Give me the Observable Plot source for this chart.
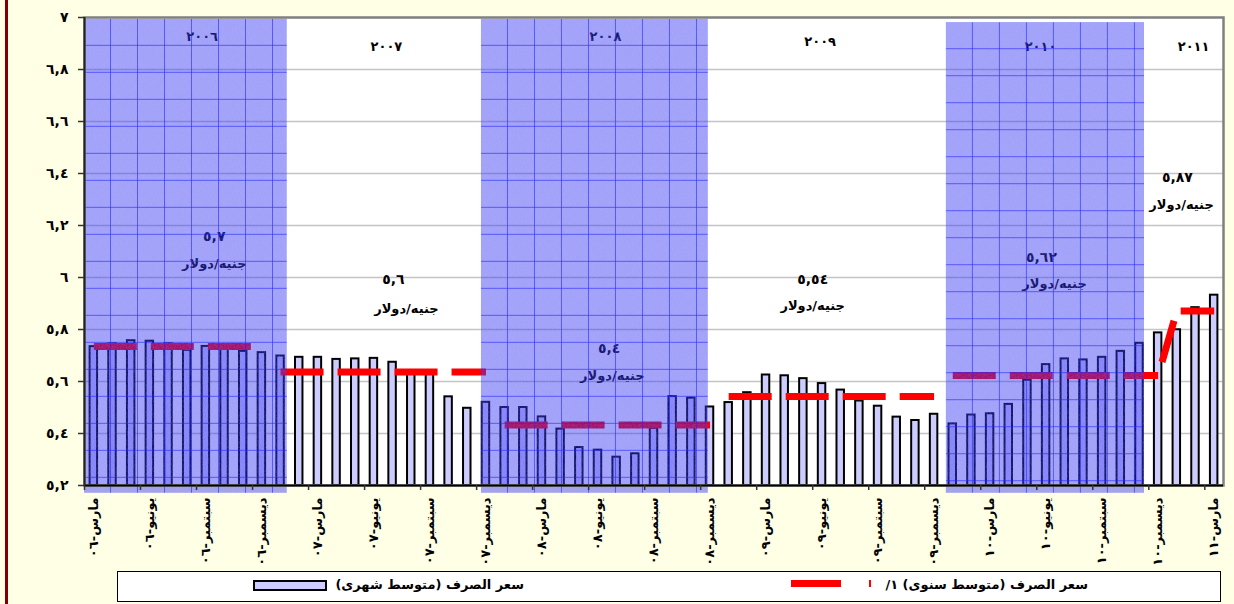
<!DOCTYPE html>
<html>
<head>
<meta charset="utf-8">
<script src="https://cdn.jsdelivr.net/npm/d3@7"></script>
<script src="https://cdn.jsdelivr.net/npm/@observablehq/plot@0.6"></script>
<style>
  html, body { margin: 0; padding: 0; background: #ffffe6; }
  #wrap { position: relative; width: 1234px; height: 604px; overflow: hidden; background: #ffffe6; font-family: "DejaVu Sans", sans-serif; }
  #chart { position: absolute; left: 0; top: 0; }
  #leftbar { position: absolute; left: 5px; top: 0; width: 2.5px; height: 604px; background: #800000; }
  #legend { position: absolute; left: 117px; top: 571px; width: 1102px; height: 29px; background: #fff; border: 1.5px solid #000; }
  #legend .txt { position: absolute; top: 5px; font-size: 13px; font-weight: bold; direction: rtl; text-align: right; white-space: nowrap; line-height: 16px; color: #000; }
  #legend .sw { position: absolute; box-sizing: border-box; }
</style>
</head>
<body>
<div id="wrap">
  <div id="chart"></div>
  <div id="leftbar"></div>
  <div id="legend">
    <div class="sw" id="sw1" style="left:135px;top:8px;width:74px;height:11px;background:#ccccff;border:2px solid #000;"></div>
    <div class="txt" id="t1" style="left:100px;width:306px;"></div>
    <div class="sw" id="sw2" style="left:673px;top:8px;width:50px;height:7px;background:#ff0000;"></div>
    <div class="sw" style="left:751px;top:8px;width:2px;height:7px;background:#ff0000;"></div>
    <div class="txt" id="t2" style="left:700px;width:270px;"></div>
  </div>
</div>
<script>
// ---- data (monthly average EGP per USD, March 2006 .. March 2011) ----
const rate2006 = [5.734, 5.745, 5.757, 5.755, 5.745, 5.720, 5.735, 5.730, 5.716, 5.711]; // مارس-ديسمبر
const rate2007 = [5.698, 5.693, 5.693, 5.685, 5.687, 5.689, 5.674, 5.640, 5.630, 5.541, 5.497, 5.520];
const rate2008 = [5.500, 5.500, 5.464, 5.417, 5.346, 5.336, 5.309, 5.322, 5.420, 5.542, 5.536, 5.502];
const rate2009 = [5.519, 5.557, 5.625, 5.622, 5.611, 5.592, 5.567, 5.525, 5.505, 5.463, 5.450, 5.474];
const rate2010 = [5.437, 5.471, 5.476, 5.512, 5.605, 5.665, 5.687, 5.683, 5.693, 5.716, 5.747, 5.787];
const rate2011 = [5.799, 5.884, 5.932]; // يناير-مارس

const annualAvg = [5.735, 5.637, 5.433, 5.542, 5.623, 5.871];
const annualText = ["٥,٧", "٥,٦", "٥,٤", "٥,٥٤", "٥,٦٢", "٥,٨٧"];
const unitText = "جنيه/دولار";
const yearNames = ["٢٠٠٦", "٢٠٠٧", "٢٠٠٨", "٢٠٠٩", "٢٠١٠", "٢٠١١"];

const xTickLabels = ["مارس-٠٦", "يونيو-٠٦", "سبتمبر-٠٦", "ديسمبر-٠٦",
  "مارس-٠٧", "يونيو-٠٧", "سبتمبر-٠٧", "ديسمبر-٠٧",
  "مارس-٠٨", "يونيو-٠٨", "سبتمبر-٠٨", "ديسمبر-٠٨",
  "مارس-٠٩", "يونيو-٠٩", "سبتمبر-٠٩", "ديسمبر-٠٩",
  "مارس-١٠", "يونيو-١٠", "سبتمبر-١٠", "ديسمبر-١٠", "مارس-١١"];
const yTicks = [5.2, 5.4, 5.6, 5.8, 6, 6.2, 6.4, 6.6, 6.8, 7];
const yTickLabels = ["٥,٢", "٥,٤", "٥,٦", "٥,٨", "٦", "٦,٢", "٦,٤", "٦,٦", "٦,٨", "٧"];

const legendMonthly = "سعر الصرف (متوسط شهرى)";
const legendAnnual = "سعر الصرف (متوسط سنوى) ١/";

// ---- layout (annotation anchors in data units, shaded year panels) ----
const yearLabelPos = [[5.8, 6.924], [15.67, 6.886], [27.4, 6.925], [38.9, 6.905], [50.7, 6.887], [58.9, 6.886]];
const valueLabelPos = [[6.45, 6.157], [16.04, 5.991], [27.6, 5.726], [38.5, 5.991], [50.75, 6.077], [58.03, 6.385]];
const unitLabelPos = [[6.45, 6.053], [16.74, 5.88], [27.77, 5.622], [38.5, 5.891], [51.45, 5.977], [58.25, 6.281]];
const shadePanels = [{x1: -0.5, x2: 10.36, top: 6.993}, {x1: 20.76, x2: 32.91, top: 6.993}, {x1: 45.66, x2: 56.27, top: 6.98}];
const shadeBottom = 5.17;
const barHalf = 0.2;
const linkedYears = [5];          // the annual line is drawn joined to the previous year only here
const dashOffsets = [0, 0, 0, 0, 0, 43];

// ---- build tables ----
const yearly = [rate2006, rate2007, rate2008, rate2009, rate2010, rate2011];
const rows = [];
yearly.forEach((arr, y) => arr.forEach(v => rows.push({i: rows.length, v, year: y})));
const lineRows = rows.map(d => ({i: d.i, avg: annualAvg[d.year], year: d.year}));
const yearSeries = yearly.map((_, k) => {
  const s = lineRows.filter(d => d.year === k);
  if (linkedYears.includes(k)) {
    const prev = lineRows.filter(d => d.year === k - 1);
    s.unshift(prev[prev.length - 1]);
  }
  return s;
});
const labelIdx = rows.filter(d => d.i % 3 === 0).map(d => d.i);
const tickIdx = labelIdx.map(i => i - 0.5);
const yLab = new Map(yTicks.map((t, k) => [t, yTickLabels[k]]));
const annots = yearNames.map((n, k) => ({
  year: n, yx: yearLabelPos[k][0], yy: yearLabelPos[k][1],
  val: annualText[k], vx: valueLabelPos[k][0], vy: valueLabelPos[k][1],
  ux: unitLabelPos[k][0], uy: unitLabelPos[k][1]
}));

const font = "DejaVu Sans";
const chart = Plot.plot({
  width: 1234,
  height: 566,
  marginLeft: 84,
  marginRight: 11,
  marginTop: 17,
  marginBottom: 81,
  style: {fontFamily: font, background: "transparent", overflow: "visible"},
  x: {type: "linear", domain: [-0.5, 60.5], axis: null},
  y: {domain: [5.2, 7], axis: null},
  marks: [
    Plot.frame({fill: "white"}),
    Plot.ruleY(yTicks.filter(t => t > 5.2 && t < 7), {stroke: "#c4c4c4", strokeWidth: 1.5}),
    Plot.rect(rows, {x1: d => d.i - barHalf, x2: d => d.i + barHalf, y1: () => 5.2, y2: "v",
      fill: "#ccccff", stroke: "#000", strokeWidth: 2}),
    ...yearSeries.map((s, k) => Plot.line(s, {x: "i", y: "avg", stroke: "#ff0000", strokeWidth: 7,
      strokeDasharray: "43,14", strokeDashoffset: dashOffsets[k], strokeLinecap: "butt", strokeLinejoin: "miter"})),
    Plot.text(annots, {x: "yx", y: "yy", text: "year", fontSize: 13, fontWeight: "bold", fill: "#000"}),
    Plot.text(annots, {x: "vx", y: "vy", text: "val", fontSize: 14, fontWeight: "bold", fill: "#000"}),
    Plot.text(annots, {x: "ux", y: "uy", text: () => unitText, fontSize: 13, fontWeight: "bold", fill: "#000"}),
    ...shadePanels.map((s, k) => Plot.rect([s], {x1: "x1", x2: "x2", y1: () => shadeBottom, y2: "top",
      fill: `url(#shade${k})`})),
    Plot.frame({stroke: "#808080", strokeWidth: 2.5}),
    Plot.ruleY([5.2], {stroke: "#000", strokeWidth: 2}),
    Plot.ruleX([-0.5], {stroke: "#222", strokeWidth: 2}),
    Plot.axisY({ticks: yTicks, tickFormat: d => yLab.get(d), tickSize: 6, tickPadding: 10,
      fontSize: 14, fontWeight: "bold", stroke: "#333", strokeWidth: 1.5}),
    Plot.axisX({ticks: tickIdx, tickFormat: () => "", tickSize: 5, stroke: "#333", strokeWidth: 1.5}),
    Plot.axisX({ticks: labelIdx, tickFormat: d => xTickLabels[d / 3], tickSize: 0, tickPadding: 12,
      tickRotate: -90, fontSize: 13, fontWeight: "bold"})
  ]
});

// patterns for the shaded year panels (texture with a grid)
const sx = chart.scale("x"), sy = chart.scale("y");
const defs = d3.select(chart).insert("defs", ":first-child");
const noise = defs.append("filter").attr("id", "noise").attr("x", 0).attr("y", 0).attr("width", 1).attr("height", 1);
noise.append("feTurbulence").attr("type", "fractalNoise").attr("baseFrequency", 1.6).attr("numOctaves", 1).attr("seed", 3).attr("result", "t");
noise.append("feColorMatrix").attr("in", "t").attr("type", "matrix")
  .attr("values", "0 0 0 0 0.5  0 0 0 0 0.5  0 0 0 0 0.9  0 0 0 -1.4 0.9");
shadePanels.forEach((s, k) => {
  const px = sx.apply(s.x1), py = sy.apply(s.top);
  const p = defs.append("pattern").attr("id", "shade" + k).attr("patternUnits", "userSpaceOnUse")
    .attr("x", px).attr("y", py).attr("width", 27).attr("height", 27);
  p.append("rect").attr("width", 27).attr("height", 27).attr("fill", "rgb(37,37,244)").attr("fill-opacity", 0.43);
  p.append("rect").attr("width", 27).attr("height", 27).attr("filter", "url(#noise)").attr("opacity", 0.35);
  p.append("path").attr("d", "M26.5,0V27M0,26.5H27").attr("stroke", "#2525ff").attr("stroke-opacity", 0.6).attr("stroke-width", 1);
});
// wide digit spacing for the year labels
d3.select(chart).selectAll("text").filter(function () { return yearNames.includes(this.textContent); })
  .attr("letter-spacing", "3px");

document.getElementById("chart").appendChild(chart);
document.getElementById("t1").textContent = legendMonthly;
document.getElementById("t2").textContent = legendAnnual;
</script>
</body>
</html>
